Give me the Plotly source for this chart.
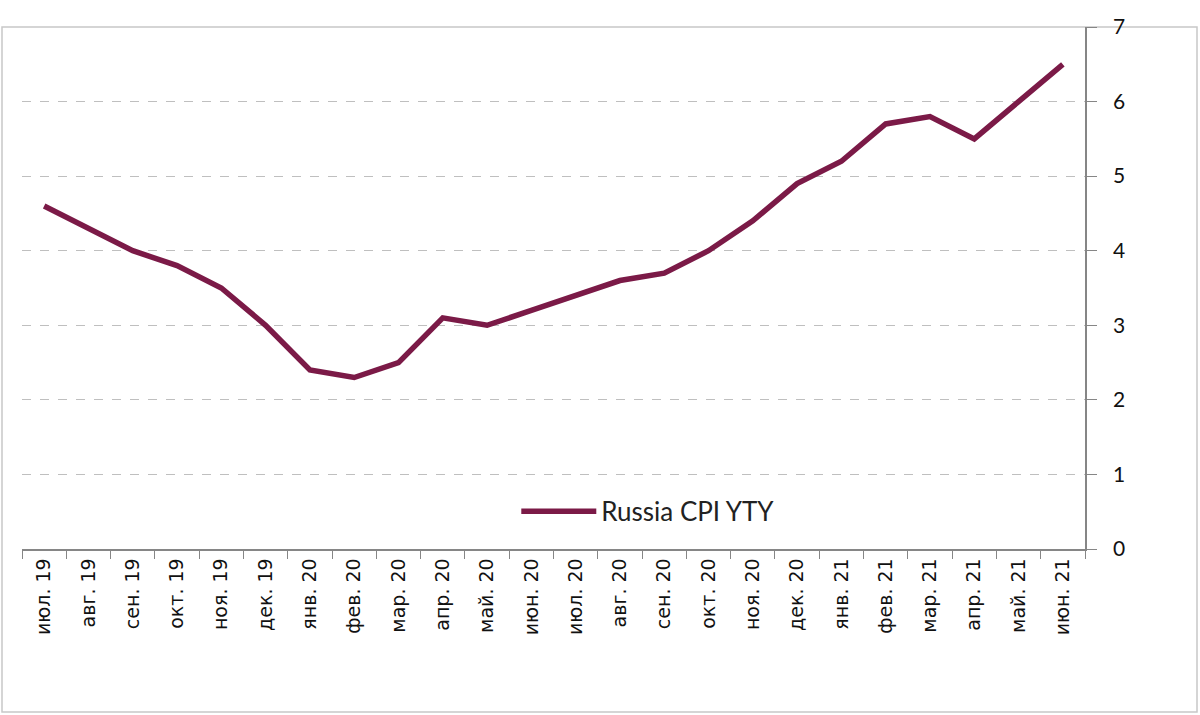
import plotly.graph_objects as go

# Monthly labels, Jul 2019 .. Jun 2021
months = [
    "июл. 19", "авг. 19", "сен. 19", "окт. 19", "ноя. 19", "дек. 19",
    "янв. 20", "фев. 20", "мар. 20", "апр. 20", "май. 20", "июн. 20",
    "июл. 20", "авг. 20", "сен. 20", "окт. 20", "ноя. 20", "дек. 20",
    "янв. 21", "фев. 21", "мар. 21", "апр. 21", "май. 21", "июн. 21",
]

# Russia CPI, year over year, %
cpi_yty = [
    4.6, 4.3, 4.0, 3.8, 3.5, 3.0,
    2.4, 2.3, 2.5, 3.1, 3.0, 3.2,
    3.4, 3.6, 3.7, 4.0, 4.4, 4.9,
    5.2, 5.7, 5.8, 5.5, 6.0, 6.5,
]

series_name = "Russia CPI YTY"
line_color = "#7B1A47"
axis_color = "#868686"
grid_color = "#BFBFBF"

fig = go.Figure()
fig.add_trace(
    go.Scatter(
        x=months,
        y=cpi_yty,
        mode="lines",
        name=series_name,
        line={"color": line_color, "width": 5.5},
    )
)

fig.update_layout(
    width=1200,
    height=715,
    margin={"l": 22, "r": 115, "t": 27, "b": 166},
    paper_bgcolor="white",
    plot_bgcolor="white",
    showlegend=True,
    legend={
        "x": 0.465,
        "y": 0.072,
        "xanchor": "left",
        "yanchor": "middle",
        "bgcolor": "rgba(0,0,0,0)",
        "font": {"family": "Lato, 'Open Sans', sans-serif", "size": 26, "color": "#222222"},
        "itemwidth": 75,
    },
    xaxis={
        "type": "category",
        "range": [-0.5, len(months) - 0.5],
        "tickangle": -90,
        "tickson": "boundaries",
        "ticks": "outside",
        "ticklen": 8,
        "tickcolor": axis_color,
        "showline": True,
        "linecolor": axis_color,
        "linewidth": 1.5,
        "showgrid": False,
        "tickfont": {"family": "DejaVu Sans, sans-serif", "size": 19, "color": "#111111"},
    },
    yaxis={
        "side": "right",
        "range": [0, 7],
        "dtick": 1,
        "ticks": "outside",
        "ticklen": 10,
        "tickcolor": axis_color,
        "showline": True,
        "linecolor": axis_color,
        "linewidth": 1.5,
        "zeroline": False,
        "showgrid": True,
        "gridcolor": grid_color,
        "griddash": "dash",
        "gridwidth": 1.2,
        "ticklabelstandoff": 12,
        "tickfont": {"family": "Lato, 'Open Sans', sans-serif", "size": 21, "color": "#111111"},
    },
    # thin frame around the whole picture
    shapes=[
        {
            "type": "rect",
            "xref": "paper",
            "yref": "paper",
            "x0": -20 / 1063,
            "x1": 1175 / 1063,
            "y0": -163 / 522,
            "y1": 1,
            "line": {"color": "#C8C8C8", "width": 1.5},
            "layer": "below",
        }
    ],
)

fig.write_html(
    "out.html",
    config={"displayModeBar": False},
    post_script="document.body.style.margin = '0';",
)
